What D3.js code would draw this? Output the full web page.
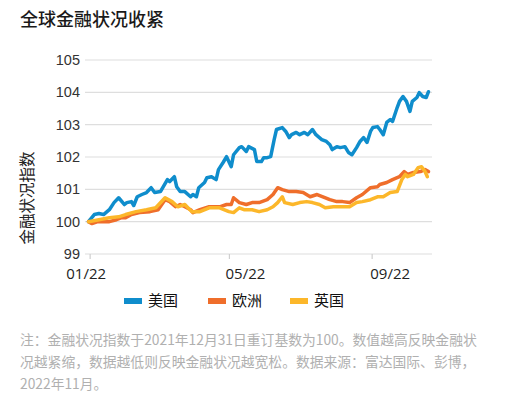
<!DOCTYPE html>
<html>
<head>
<meta charset="utf-8">
<script src="https://cdn.jsdelivr.net/npm/d3@7"></script>
<style>
  html, body { margin: 0; padding: 0; background: #fff; }
  svg { display: block; font-family: "Noto Sans CJK SC", "Noto Sans", sans-serif; }
</style>
</head>
<body>
<div id="chart"></div>
<script>
// index readings, rebased to 100 on 2021-12-31
const usDates = ["2021-12-31","2022-01-05","2022-01-09","2022-01-13","2022-01-18","2022-01-22","2022-01-26","2022-01-31","2022-02-02","2022-02-06","2022-02-08","2022-02-11","2022-02-15","2022-02-19","2022-02-23","2022-02-26","2022-03-03","2022-03-09","2022-03-11","2022-03-15","2022-03-17","2022-03-20","2022-03-24","2022-03-29","2022-03-31","2022-04-03","2022-04-05","2022-04-10","2022-04-12","2022-04-16","2022-04-20","2022-04-22","2022-04-26","2022-04-29","2022-05-03","2022-05-05","2022-05-10","2022-05-12","2022-05-16","2022-05-18","2022-05-23","2022-05-25","2022-05-29","2022-05-31","2022-06-03","2022-06-06","2022-06-09","2022-06-11","2022-06-16","2022-06-19","2022-06-22","2022-06-24","2022-06-28","2022-07-01","2022-07-05","2022-07-08","2022-07-12","2022-07-15","2022-07-20","2022-07-24","2022-07-27","2022-07-29","2022-08-02","2022-08-05","2022-08-09","2022-08-12","2022-08-15","2022-08-19","2022-08-22","2022-08-25","2022-08-28","2022-08-31","2022-09-02","2022-09-06","2022-09-08","2022-09-11","2022-09-14","2022-09-17","2022-09-19","2022-09-23","2022-09-25","2022-09-28","2022-10-01","2022-10-04","2022-10-06","2022-10-10","2022-10-12","2022-10-15","2022-10-18","2022-10-20"];
const usValues = [100.00,100.22,100.25,100.22,100.37,100.59,100.74,100.53,100.59,100.62,100.50,100.77,100.84,100.90,101.05,100.90,100.93,101.30,101.24,101.39,101.08,100.93,100.93,100.77,100.84,100.77,101.05,101.21,101.36,101.39,101.30,101.61,101.83,102.01,101.70,102.07,102.29,102.32,102.17,102.32,102.23,101.86,101.86,101.98,101.98,102.01,102.54,102.85,102.91,102.79,102.60,102.69,102.76,102.69,102.76,102.69,102.85,102.69,102.54,102.48,102.38,102.23,102.32,102.29,102.32,102.14,102.07,102.29,102.48,102.60,102.45,102.79,102.91,102.94,102.85,102.69,103.07,103.16,103.10,103.53,103.72,103.87,103.72,103.41,103.72,103.84,103.99,103.87,103.84,104.02];

const euDates = ["2021-12-31","2022-01-03","2022-01-08","2022-01-12","2022-01-18","2022-01-24","2022-01-28","2022-02-01","2022-02-06","2022-02-13","2022-02-22","2022-03-01","2022-03-07","2022-03-11","2022-03-16","2022-03-20","2022-03-24","2022-03-29","2022-03-31","2022-04-06","2022-04-14","2022-04-23","2022-04-29","2022-05-03","2022-05-05","2022-05-10","2022-05-16","2022-05-21","2022-05-27","2022-06-03","2022-06-08","2022-06-12","2022-06-16","2022-06-22","2022-06-28","2022-07-04","2022-07-10","2022-07-16","2022-07-21","2022-07-27","2022-08-02","2022-08-07","2022-08-13","2022-08-19","2022-08-24","2022-08-31","2022-09-06","2022-09-08","2022-09-14","2022-09-19","2022-09-25","2022-09-29","2022-10-02","2022-10-07","2022-10-13","2022-10-17","2022-10-20"];
const euValues = [100.00,99.94,100.00,100.00,100.00,100.06,100.12,100.12,100.22,100.28,100.31,100.37,100.68,100.62,100.46,100.53,100.46,100.37,100.28,100.37,100.46,100.46,100.53,100.53,100.74,100.59,100.53,100.59,100.59,100.68,100.84,101.05,100.99,100.93,100.93,100.90,100.77,100.84,100.77,100.68,100.62,100.62,100.59,100.74,100.84,101.05,101.08,101.15,101.21,101.30,101.39,101.55,101.46,101.52,101.55,101.61,101.55];

const ukDates = ["2021-12-31","2022-01-09","2022-01-18","2022-01-26","2022-02-01","2022-02-10","2022-02-19","2022-02-27","2022-03-07","2022-03-13","2022-03-18","2022-03-24","2022-03-30","2022-04-06","2022-04-14","2022-04-23","2022-05-01","2022-05-05","2022-05-10","2022-05-14","2022-05-21","2022-05-27","2022-06-03","2022-06-08","2022-06-12","2022-06-16","2022-06-18","2022-06-25","2022-07-01","2022-07-07","2022-07-12","2022-07-18","2022-07-23","2022-07-30","2022-08-07","2022-08-13","2022-08-19","2022-08-24","2022-08-31","2022-09-06","2022-09-11","2022-09-17","2022-09-23","2022-09-27","2022-09-30","2022-10-02","2022-10-07","2022-10-11","2022-10-14","2022-10-17","2022-10-19"];
const ukValues = [100.00,100.06,100.12,100.15,100.22,100.31,100.37,100.43,100.74,100.62,100.46,100.53,100.31,100.31,100.43,100.43,100.31,100.28,100.43,100.37,100.37,100.31,100.37,100.46,100.59,100.77,100.59,100.53,100.59,100.62,100.59,100.53,100.43,100.46,100.46,100.46,100.59,100.62,100.68,100.77,100.77,100.90,100.93,101.30,101.46,101.39,101.46,101.67,101.70,101.55,101.39];

const seriesNames = ["美国", "欧洲", "英国"];
const seriesColors = ["#0f8dcc", "#ef6e2b", "#fcb72a"];
const yTicks = [99, 100, 101, 102, 103, 104, 105];
const xTickDates = ["2022-01-01", "2022-05-01", "2022-09-01"];
const xTickLabels = ["01/22", "05/22", "09/22"];

const title = "全球金融状况收紧";
const yTitle = "金融状况指数";
const noteLines = [
  "注：金融状况指数于2021年12月31日重订基数为100。数值越高反映金融状",
  "况越紧缩，数据越低则反映金融状况越宽松。数据来源：富达国际、彭博，",
  "2022年11月。"
];

const W = 507, H = 397;
const parse = d3.timeParse("%Y-%m-%d");

const series = [
  { name: seriesNames[0], color: seriesColors[0], points: usDates.map((d, i) => ({ date: parse(d), value: usValues[i] })) },
  { name: seriesNames[1], color: seriesColors[1], points: euDates.map((d, i) => ({ date: parse(d), value: euValues[i] })) },
  { name: seriesNames[2], color: seriesColors[2], points: ukDates.map((d, i) => ({ date: parse(d), value: ukValues[i] })) }
];

const plot = { left: 85, right: 432, top: 60, bottom: 254 };

const x = d3.scaleTime()
  .domain([parse("2021-12-28"), parse("2022-10-23")])
  .range([plot.left, plot.right]);

const y = d3.scaleLinear()
  .domain([99, 105])
  .range([plot.bottom, plot.top]);

const svg = d3.select("#chart")
  .append("svg")
  .attr("width", W)
  .attr("height", H);

svg.append("text")
  .attr("x", 20)
  .attr("y", 26)
  .attr("font-size", 18)
  .attr("font-weight", 500)
  .attr("fill", "#1a1a1a")
  .text(title);

// horizontal grid
svg.append("g")
  .selectAll("line")
  .data(yTicks)
  .enter().append("line")
  .attr("x1", plot.left)
  .attr("x2", plot.right)
  .attr("y1", d => y(d))
  .attr("y2", d => y(d))
  .attr("stroke", "#dedede")
  .attr("stroke-width", 1.2);

// y axis labels
const yAxis = svg.append("g")
  .attr("transform", `translate(${plot.left - 5},0)`)
  .call(d3.axisLeft(y).tickValues(yTicks).tickFormat(d3.format("d")).tickSize(0).tickPadding(0));
yAxis.select(".domain").remove();
yAxis.selectAll("text")
  .attr("font-family", "'Liberation Sans', Arial, sans-serif")
  .attr("font-size", 14.5)
  .attr("fill", "#333");

svg.append("text")
  .attr("transform", `translate(33, 198) rotate(-90)`)
  .attr("text-anchor", "middle")
  .attr("font-size", 15.5)
  .attr("fill", "#222")
  .text(yTitle);

// x axis ticks + labels
const labelShift = [-4, 16, 18];
const xAxis = svg.append("g")
  .attr("transform", `translate(0,${plot.bottom})`)
  .call(d3.axisBottom(x)
    .tickValues(xTickDates.map(parse))
    .tickFormat((d, i) => xTickLabels[i])
    .tickSize(5)
    .tickPadding(9));
xAxis.select(".domain").remove();
xAxis.selectAll("line").attr("stroke", "#cfcfcf").attr("stroke-width", 1.2);
xAxis.selectAll("text")
  .attr("font-family", "'Open Sans', 'Noto Sans', sans-serif")
  .attr("font-size", 15)
  .attr("fill", "#222")
  .attr("dx", (d, i) => labelShift[i]);

const line = d3.line()
  .x(d => x(d.date))
  .y(d => y(d.value));

svg.append("g")
  .selectAll("path")
  .data(series)
  .enter().append("path")
  .attr("d", d => line(d.points))
  .attr("fill", "none")
  .attr("stroke", d => d.color)
  .attr("stroke-width", 3.5)
  .attr("stroke-linejoin", "round")
  .attr("stroke-linecap", "round");

// legend
const legendX = [124, 208, 290];
const legend = svg.append("g")
  .selectAll("g")
  .data(series)
  .enter().append("g")
  .attr("transform", (d, i) => `translate(${legendX[i]}, 301)`);
legend.append("rect")
  .attr("x", 0)
  .attr("y", -3)
  .attr("width", 18)
  .attr("height", 6)
  .attr("fill", d => d.color);
legend.append("text")
  .attr("x", 24)
  .attr("dy", "0.36em")
  .attr("font-size", 15)
  .attr("fill", "#111")
  .text(d => d.name);

// footnote
svg.append("g")
  .selectAll("text")
  .data(noteLines)
  .enter().append("text")
  .attr("x", 20)
  .attr("y", (d, i) => 345 + i * 22)
  .attr("font-size", 13.8)
  .attr("fill", "#b0b0b0")
  .text(d => d);
</script>
</body>
</html>
